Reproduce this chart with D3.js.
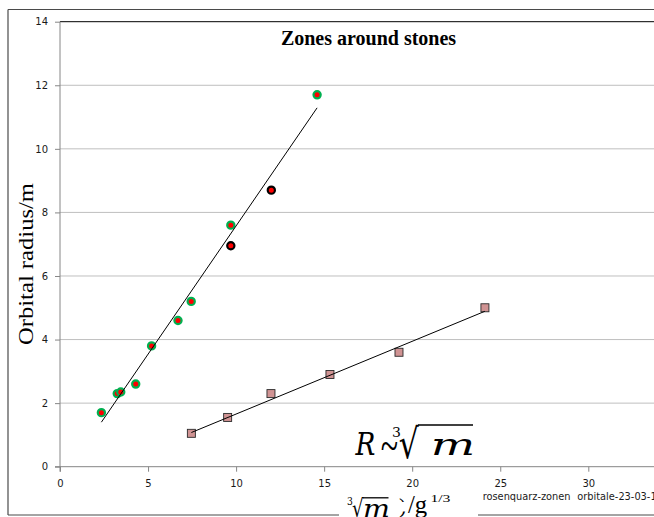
<!DOCTYPE html>
<html>
<head>
<meta charset="utf-8">
<script src="https://cdn.jsdelivr.net/npm/d3@7"></script>
<style>
  html, body { margin: 0; padding: 0; background: #fff; }
  svg { display: block; overflow: hidden; }
</style>
</head>
<body>
<div id="chart"></div>
<script>
// values
const stoneX = [2.35, 3.25, 3.45, 4.3, 5.2, 6.7, 7.45, 9.7, 14.6];
const stoneY = [1.7, 2.3, 2.35, 2.6, 3.8, 4.6, 5.2, 7.6, 11.7];
const darkX = [9.7, 12.0];
const darkY = [6.95, 8.7];
const quartzX = [7.46, 9.52, 11.98, 15.33, 19.25, 24.13];
const quartzY = [1.05, 1.55, 2.3, 2.9, 3.6, 5.0];
// trend lines (end points as read)
const trendStoneX = [2.35, 14.6];
const trendStoneY = [1.40, 11.29];
const trendQuartzX = [7.46, 24.13];
const trendQuartzY = [1.075, 4.89];
const xTicks = [0, 5, 10, 15, 20, 25, 30];
const yTicks = [0, 2, 4, 6, 8, 10, 12, 14];

const width = 654, height = 517;
const plotLeft = 60, plotTop = 21.7, plotBottom = 466.7;

const svg = d3.select("#chart").append("svg")
    .attr("width", width)
    .attr("height", height);

const x = d3.scaleLinear().domain([0, 35]).range([plotLeft, plotLeft + 35 * 17.61]);
const y = d3.scaleLinear().domain([0, 14]).range([plotBottom, plotTop]);

// outer chart border (bottom is broken by the axis title)
const border = svg.append("g").attr("stroke", "#4a4a4a").attr("stroke-width", 1.2);
border.append("line").attr("x1", 8).attr("x2", width).attr("y1", 9.5).attr("y2", 9.5);
border.append("line").attr("x1", 8).attr("x2", 8).attr("y1", 9.5).attr("y2", 515);
border.append("line").attr("x1", 8).attr("x2", 339).attr("y1", 515).attr("y2", 515);
border.append("line").attr("x1", 478).attr("x2", width).attr("y1", 515).attr("y2", 515);

// gridlines
svg.append("g")
    .selectAll("line")
    .data(yTicks.filter(d => d > 0 && d < 14))
    .join("line")
    .attr("x1", plotLeft).attr("x2", width)
    .attr("y1", d => y(d)).attr("y2", d => y(d))
    .attr("stroke", "#bfbfbf")
    .attr("stroke-width", 1);

// top edge of plot area
svg.append("line")
    .attr("x1", plotLeft).attr("x2", width)
    .attr("y1", y(14)).attr("y2", y(14))
    .attr("stroke", "#000").attr("stroke-width", 1);

// axes
const yAxis = svg.append("g")
    .attr("transform", `translate(${plotLeft},0)`)
    .call(d3.axisLeft(y).tickValues(yTicks).tickSize(5).tickPadding(7));
const xAxis = svg.append("g")
    .attr("transform", `translate(0,${plotBottom})`)
    .call(d3.axisBottom(x).tickValues(xTicks).tickSize(5).tickPadding(8));

[yAxis, xAxis].forEach(a => {
    a.select(".domain").attr("stroke", "#868686");
    a.selectAll(".tick line").attr("stroke", "#868686");
    a.selectAll(".tick text")
        .attr("fill", "#1a1a1a")
        .style("font-family", "'DejaVu Sans', sans-serif")
        .style("font-size", "10px");
});
yAxis.select(".domain").attr("d", `M-5,${plotBottom}H0V${plotTop}`);
xAxis.select(".domain").attr("d", `M${plotLeft},5V0H${width}`);

// trend lines + markers
const line = d3.line().x(d => x(d[0])).y(d => y(d[1]));

svg.append("g")
    .selectAll("rect")
    .data(d3.zip(quartzX, quartzY))
    .join("rect")
    .attr("x", d => x(d[0]) - 4)
    .attr("y", d => y(d[1]) - 4)
    .attr("width", 8).attr("height", 8)
    .attr("fill", "#d09393")
    .attr("stroke", "#2a2a2a")
    .attr("stroke-width", 0.9);

svg.append("g")
    .selectAll("circle")
    .data(d3.zip(stoneX, stoneY))
    .join("circle")
    .attr("cx", d => x(d[0])).attr("cy", d => y(d[1]))
    .attr("r", 3.6)
    .attr("fill", "#ff0000")
    .attr("stroke", "#00b050")
    .attr("stroke-width", 2.2);

svg.append("g")
    .selectAll("circle")
    .data(d3.zip(darkX, darkY))
    .join("circle")
    .attr("cx", d => x(d[0])).attr("cy", d => y(d[1]))
    .attr("r", 3.6)
    .attr("fill", "#ff0000")
    .attr("stroke", "#000")
    .attr("stroke-width", 2.2);

svg.append("path")
    .datum(d3.zip(trendStoneX, trendStoneY))
    .attr("d", line)
    .attr("fill", "none").attr("stroke", "#000").attr("stroke-width", 1);
svg.append("path")
    .datum(d3.zip(trendQuartzX, trendQuartzY))
    .attr("d", line)
    .attr("fill", "none").attr("stroke", "#000").attr("stroke-width", 1);

// title
svg.append("text")
    .attr("x", 368.5).attr("y", 45)
    .attr("text-anchor", "middle")
    .style("font-family", "'Liberation Serif', serif")
    .style("font-weight", "bold")
    .style("font-size", "20px")
    .text("Zones around stones");

// y axis title
svg.append("text")
    .attr("transform", "translate(33,264) rotate(-90)")
    .attr("text-anchor", "middle")
    .attr("textLength", 162)
    .attr("lengthAdjust", "spacingAndGlyphs")
    .style("font-family", "'Liberation Serif', serif")
    .style("font-size", "20px")
    .text("Orbital radius/m");

// place a glyph run so its ink fills a given box (math pieces)
const ctx = document.createElement("canvas").getContext("2d");
function fitGlyphs(parent, str, font, box) {
    const fontCss = `${font.style || "normal"} normal ${font.weight || 400} 100px ${font.family}`;
    ctx.font = fontCss;
    ctx.textAlign = "left";
    ctx.textBaseline = "alphabetic";
    const m = ctx.measureText(str);
    const inkL = -m.actualBoundingBoxLeft, inkR = m.actualBoundingBoxRight;
    const inkT = -m.actualBoundingBoxAscent, inkB = m.actualBoundingBoxDescent;
    const sx = (box[2] - box[0]) / (inkR - inkL);
    const sy = (box[3] - box[1]) / (inkB - inkT);
    return parent.append("text")
        .attr("transform", `translate(${box[0] - sx * inkL},${box[1] - sy * inkT}) scale(${sx},${sy})`)
        .style("font-family", font.family)
        .style("font-style", font.style || "normal")
        .style("font-size", "100px")
        .text(str);
}

const mathFont = { family: "'DejaVu Serif'", style: "italic" };
const uprightSerif = { family: "'Liberation Serif'" };
const radicalFont = { family: "'DejaVu Sans'" };

// R ~ cube root of m
const formula = svg.append("g");
fitGlyphs(formula, "R", mathFont, [355, 431.7, 374.5, 455]);
fitGlyphs(formula, "~", uprightSerif, [381.5, 442, 397.5, 450]);
fitGlyphs(formula, "3", { family: "'DejaVu Serif'" }, [393, 427, 400, 437]);
fitGlyphs(formula, "\u221A", radicalFont, [399.5, 424, 419, 459]);
formula.append("line")
    .attr("x1", 418).attr("x2", 473).attr("y1", 425).attr("y2", 425)
    .attr("stroke", "#000").attr("stroke-width", 1.6);
fitGlyphs(formula, "m", mathFont, [434, 440, 472, 455.3]);

// x axis title: cube root of m / g^1/3 (partly hidden as in the source)
const xt = svg.append("g");
fitGlyphs(xt, "3", { family: "'DejaVu Serif'" }, [347.7, 496.7, 352.3, 505]);
fitGlyphs(xt, "\u221A", radicalFont, [352.3, 497.2, 363.5, 518]);
xt.append("line")
    .attr("x1", 363).attr("x2", 388.5).attr("y1", 497.8).attr("y2", 497.8)
    .attr("stroke", "#000").attr("stroke-width", 1.3);
fitGlyphs(xt, "m", mathFont, [365, 503.3, 388, 516.5]);
xt.append("text").attr("x", 399).attr("y", 513)
    .style("font-family", "'Liberation Serif', serif").style("font-size", "22px")
    .text(")");
xt.append("rect").attr("x", 396).attr("y", 502).attr("width", 11).attr("height", 9.5).attr("fill", "#fff");
fitGlyphs(xt, "/g", uprightSerif, [408, 496.7, 427, 518.5]);
fitGlyphs(xt, "1/3", uprightSerif, [431.7, 495, 450, 501.9]);

// file name footer
const footer = svg.append("g")
    .style("font-family", "'DejaVu Sans', sans-serif")
    .style("font-size", "9.8px")
    .attr("fill", "#1a1a1a");
footer.append("text").attr("x", 482.7).attr("y", 500).text("rosenquarz-zonen");
footer.append("text").attr("x", 577.3).attr("y", 500).text("orbitale-23-03-13");
</script>
</body>
</html>
